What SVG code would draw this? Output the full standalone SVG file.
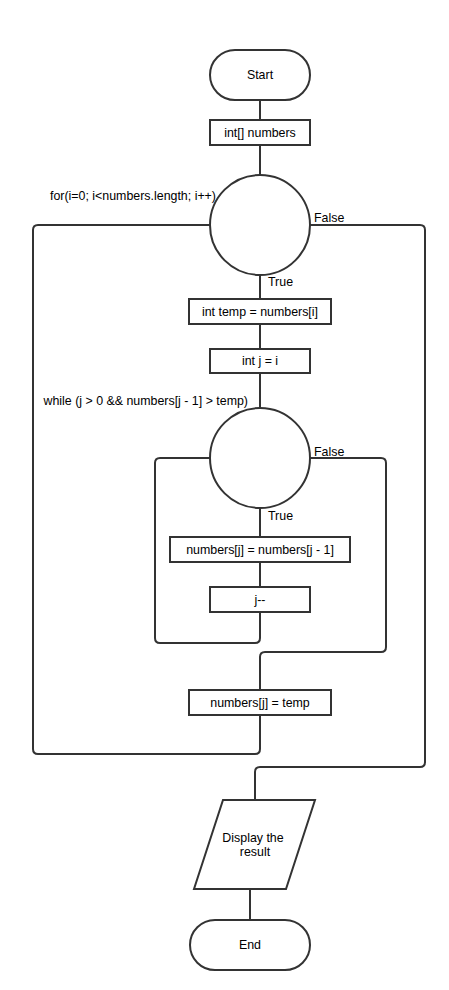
<svg xmlns="http://www.w3.org/2000/svg" width="449" height="990" viewBox="0 0 449 990">
  <style>
    .shape { fill: #ffffff; stroke: #333333; stroke-width: 2; }
    .wire { fill: none; stroke: #333333; stroke-width: 2; }
    text { font-family: "Liberation Sans", Arial, sans-serif; font-size: 12.4px; fill: #000000; }
    .c { text-anchor: middle; }
  </style>
  <rect width="449" height="990" fill="#ffffff"/>

  <!-- connectors -->
  <g id="connectors">
    <path class="wire" d="M260,100 V120"/>
    <path class="wire" d="M260,145 V175"/>
    <path class="wire" d="M260,275 V299"/>
    <path class="wire" d="M260,324 V349"/>
    <path class="wire" d="M260,373 V408"/>
    <path class="wire" d="M260,508 V537"/>
    <path class="wire" d="M260,562 V587"/>
    <path class="wire" d="M250,889 V920"/>
    <!-- for loop: back edge and exit -->
    <path class="wire" d="M260,715 V749 Q260,754 255,754 H38 Q33,754 33,749 V230 Q33,225 38,225 H210"/>
    <path class="wire" d="M310,225 H420 Q425,225 425,230 V762 Q425,767 420,767 H260 Q255,767 255,772 V800"/>
    <!-- while loop: back edge and exit -->
    <path class="wire" d="M260,612 V638 Q260,643 255,643 H160 Q155,643 155,638 V463 Q155,458 160,458 H210"/>
    <path class="wire" d="M310,458 H381 Q386,458 386,463 V647 Q386,652 381,652 H265 Q260,652 260,657 V690"/>
    <text x="314" y="222">False</text>
    <text x="268" y="286">True</text>
    <text x="314" y="456">False</text>
    <text x="268" y="520">True</text>
  </g>

  <g id="start">
    <rect class="shape" x="210" y="50" width="100" height="50" rx="25" ry="25"/>
    <text class="c" x="260" y="79">Start</text>
  </g>

  <g id="declare-array">
    <rect class="shape" x="210" y="120" width="100" height="25"/>
    <text class="c" x="260" y="137">int[] numbers</text>
  </g>

  <g id="for-loop">
    <circle class="shape" cx="260" cy="225" r="50"/>
    <text x="216" y="200" text-anchor="end">for(i=0; i&lt;numbers.length; i++)</text>
  </g>

  <g id="init-temp">
    <rect class="shape" x="189" y="299" width="142" height="25"/>
    <text class="c" x="260" y="316">int temp = numbers[i]</text>
  </g>

  <g id="init-j">
    <rect class="shape" x="210" y="349" width="100" height="24"/>
    <text class="c" x="260" y="365">int j = i</text>
  </g>

  <g id="while-loop">
    <circle class="shape" cx="260" cy="458" r="50"/>
    <text x="248" y="405" text-anchor="end">while (j &gt; 0 &amp;&amp; numbers[j - 1] &gt; temp)</text>
  </g>

  <g id="shift">
    <rect class="shape" x="170" y="537" width="180" height="25"/>
    <text class="c" x="260" y="554">numbers[j] = numbers[j - 1]</text>
  </g>

  <g id="decrement">
    <rect class="shape" x="210" y="587" width="100" height="25"/>
    <text class="c" x="260" y="604">j--</text>
  </g>

  <g id="insert">
    <rect class="shape" x="189" y="690" width="142" height="25"/>
    <text class="c" x="260" y="707">numbers[j] = temp</text>
  </g>

  <g id="display">
    <polygon class="shape" points="223,800 315,800 286,889 194,889"/>
    <text class="c" x="253" y="842">Display the</text>
    <text class="c" x="255" y="856">result</text>
  </g>

  <g id="end">
    <rect class="shape" x="190" y="920" width="120" height="50" rx="25" ry="25"/>
    <text class="c" x="250" y="949">End</text>
  </g>
</svg>
